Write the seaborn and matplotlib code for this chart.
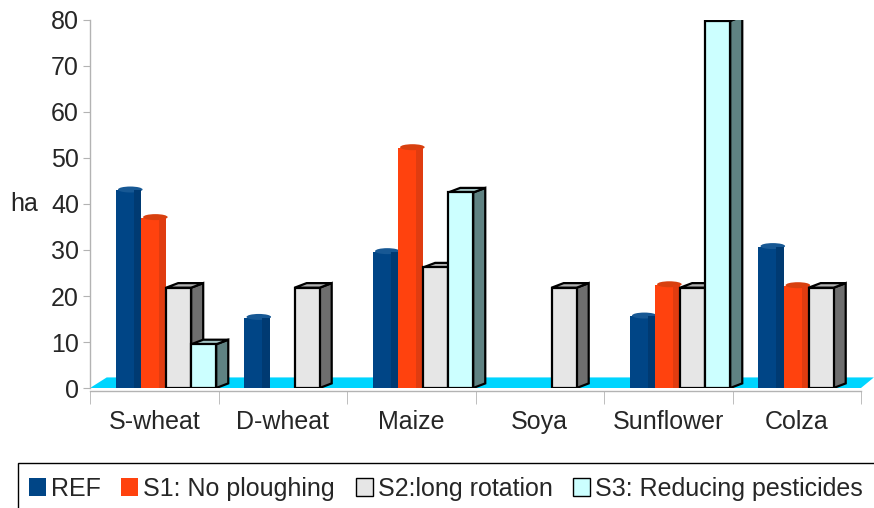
import numpy as np
import pandas as pd
import matplotlib
matplotlib.use("Agg")
import matplotlib.pyplot as plt
import seaborn as sns
from matplotlib.patches import Polygon, Rectangle, Ellipse, Patch

crops = ["S-wheat", "D-wheat", "Maize", "Soya", "Sunflower", "Colza"]
scenarios = ["REF", "S1: No ploughing", "S2:long rotation", "S3: Reducing pesticides"]
ref = [43, 15.3, 29.6, 0, 15.6, 30.7]
s1 = [37, 0, 52.2, 0, 22.4, 22.2]
s2 = [21.8, 21.8, 26.2, 21.8, 21.8, 21.8]
s3 = [9.5, 0, 42.5, 0, 79.8, 0]
yticks = [0, 10, 20, 30, 40, 50, 60, 70, 80]

front_colors = ["#004586", "#ff420e", "#e6e6e6", "#ccffff"]
strip_colors = ["#003a72", "#e03c10", None, None]
cap_colors = ["#175894", "#d8400f", "#b0b0b0", "#a3c4c4"]
side_colors = [None, None, "#6e6e6e", "#5f8282"]
boxed = [False, False, True, True]

rows = []
for series, name in zip([ref, s1, s2, s3], scenarios):
    for c, v in zip(crops, series):
        rows.append({"crop": c, "scenario": name, "ha": v})
df = pd.DataFrame(rows)

sns.set_style("white")
plt.rcParams["font.family"] = ["Liberation Sans", "DejaVu Sans"]

fig = plt.figure(figsize=(8.74, 5.08), dpi=100)
ax = fig.add_axes([90 / 874, 1 - 388 / 508, 771 / 874, 368 / 508])

sns.barplot(data=df, x="crop", y="ha", hue="scenario", order=crops,
            hue_order=scenarios, palette=front_colors, saturation=1,
            width=0.78, legend=False, ax=ax)

ax.set_xlim(-0.5, 5.5)
ax.set_ylim(0, 80)

# pseudo-3D decoration
dx = 0.094
dy = 1.0
shift = 0.092
for k, cont in enumerate(ax.containers):
    for p in cont.patches:
        h = p.get_height()
        p.set_x(p.get_x() + shift)
        if h <= 0:
            p.set_visible(False)
            continue
        x0 = p.get_x()
        w = p.get_width()
        x1 = x0 + w
        z = 3 + k
        p.set_zorder(z + 0.2)
        if boxed[k]:
            p.set_edgecolor("black")
            p.set_linewidth(1.6)
            side = Polygon([(x1, 0), (x1 + dx, dy), (x1 + dx, h + dy), (x1, h)],
                           closed=True, facecolor=side_colors[k],
                           edgecolor="black", linewidth=1.6, zorder=z + 0.1)
            top = Polygon([(x0, h), (x1, h), (x1 + dx, h + dy), (x0 + dx, h + dy)],
                          closed=True, facecolor=cap_colors[k],
                          edgecolor="black", linewidth=1.6, zorder=z + 0.1)
            ax.add_patch(side)
            ax.add_patch(top)
        else:
            p.set_edgecolor("none")
            p.set_linewidth(0)
            strip = Rectangle((x0 + 0.72 * w, 0), 0.28 * w, h,
                              facecolor=strip_colors[k], edgecolor="none",
                              zorder=z + 0.3)
            cap = Ellipse((x0 + w / 2 + dx * 0.15, h + dy * 0.15), w * 0.98, dy * 1.3,
                          facecolor=cap_colors[k], edgecolor="none", zorder=z + 0.25)
            ax.add_patch(strip)
            ax.add_patch(cap)

# floor
floor = Polygon([(-0.5, 0), (5.5, 0), (5.5 + 0.1, 2.3), (-0.5 + 0.13, 2.3)],
                closed=True, facecolor="#00d5ff", edgecolor="none", zorder=1,
                clip_on=False)
ax.add_patch(floor)

# axes styling
for s in ["top", "right"]:
    ax.spines[s].set_visible(False)
for s in ["left", "bottom"]:
    ax.spines[s].set_color("#b3b3b3")
    ax.spines[s].set_linewidth(1.0)
ax.spines["bottom"].set_position(("outward", 2))

ax.set_yticks(yticks)
ax.tick_params(axis="y", which="major", length=5, color="#b3b3b3",
               labelsize=18, pad=3, left=True)
ax.set_xticks(range(len(crops)))
ax.set_xticklabels(crops)
ax.set_xticks(np.arange(-0.5, 6, 1.0), minor=True)
ax.tick_params(axis="x", which="major", length=0, labelsize=18, pad=14, bottom=False)
ax.tick_params(axis="x", which="minor", length=9, color="#b3b3b3", bottom=True)
ax.set_xlabel("")
ax.set_ylabel("ha", rotation=0, fontsize=18, va="center", ha="center")
ax.yaxis.set_label_coords(-0.085, 0.5)
ax.grid(False)

# legend
handles = []
for k in range(4):
    handles.append(Patch(facecolor=front_colors[k],
                         edgecolor="black" if boxed[k] else "none",
                         linewidth=1.0 if boxed[k] else 0))
fig.legend(handles, scenarios, loc="center left",
           bbox_to_anchor=(29 / 874, 1 - 489 / 508), ncol=4, frameon=False,
           fontsize=18, handlelength=0.68, handleheight=0.72, handletextpad=0.2,
           columnspacing=0.82, borderaxespad=0, borderpad=0)
fig.patches.append(Rectangle((18 / 874, -0.05), 1.0, (508 - 463) / 508 + 0.05,
                             transform=fig.transFigure, fill=False,
                             edgecolor="black", linewidth=1.0))

fig.savefig("out.png", dpi=100)
